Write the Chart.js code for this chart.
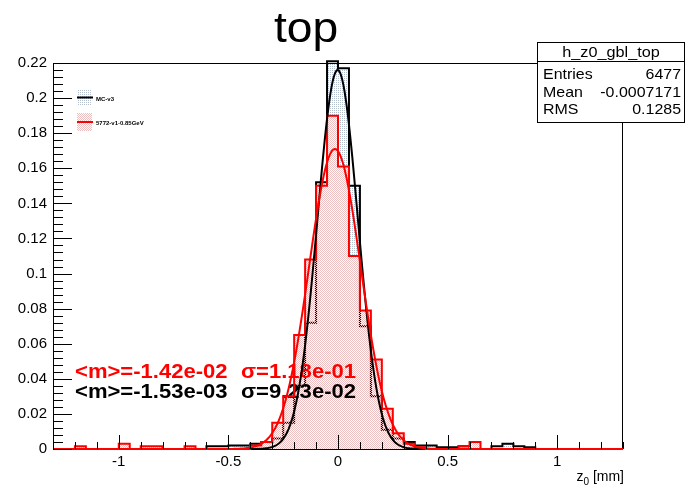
<!DOCTYPE html>
<html>
<head>
<meta charset="utf-8">
<script src="https://cdn.jsdelivr.net/npm/chart.js@4.4.1/dist/chart.umd.min.js"></script>
<style>
  html, body { margin: 0; padding: 0; background: #fff; }
  #wrap { width: 685px; height: 489px; }
</style>
</head>
<body>
<div id="wrap"><canvas id="c" width="685" height="489"></canvas></div>
<script>
// ---- histogram binning: 52 bins of 0.05 mm over [-1.3, 1.3] ----
const xRange = [-1.3, 1.3];
const binWidth = 0.05;

// normalised bin contents, one value per bin (low edge -1.30, -1.25, ... 1.25)
const mcV3 = [
  0, 0, 0, 0, 0, 0, 0, 0, 0, 0,
  0, 0, 0, 0, 0.0015, 0.0015, 0.002, 0.002, 0.003, 0.004,
  0.006, 0.015, 0.036, 0.072, 0.152, 0.221, 0.217, 0.150, 0.070, 0.030,
  0.011, 0.006, 0.004, 0.002, 0.002, 0.001, 0.001, 0.0015, 0, 0,
  0.0015, 0.003, 0.0015, 0.001, 0, 0, 0, 0, 0, 0,
  0, 0
];
const run5772 = [
  0, 0, 0.0015, 0, 0, 0, 0.003, 0, 0.0015, 0.0015,
  0, 0, 0.0015, 0, 0, 0, 0, 0, 0.002, 0.004,
  0.015, 0.030, 0.065, 0.108, 0.150, 0.190, 0.161, 0.110, 0.079, 0.051,
  0.023, 0.009, 0.003, 0.001, 0, 0, 0, 0.0015, 0.004, 0,
  0, 0, 0, 0, 0, 0, 0, 0, 0, 0,
  0, 0
];

// series names
const seriesNames = ['MC-v3', '5772-v1-0.85GeV'];

// Gaussian fit results: [5772 data, MC]
const fitMean  = [-1.42e-02, -1.53e-03];
const fitSigma = [1.18e-01, 9.23e-02];
const fitPeak  = [0.171, 0.216];

// statistics box
const statTitle = 'h_z0_gbl_top';
const statNames = ['Entries', 'Mean', 'RMS'];
const statValues = ['6477', '-0.0007171', '0.1285'];

// axis ticks
const xTickValues = [-1, -0.5, 0, 0.5, 1];
const xTickLabels = ['-1', '-0.5', '0', '0.5', '1'];
const yTickValues = [0, 0.02, 0.04, 0.06, 0.08, 0.1, 0.12, 0.14, 0.16, 0.18, 0.2, 0.22];
const yTickLabels = ['0', '0.02', '0.04', '0.06', '0.08', '0.1', '0.12', '0.14', '0.16', '0.18', '0.2', '0.22'];

const FONT = '"Liberation Sans", Arial, Helvetica, sans-serif';

// ---- helpers ----
function stepPoints(values) {
  const pts = values.map((v, i) => ({ x: xRange[0] + i * binWidth, y: v }));
  pts.push({ x: xRange[0] + values.length * binWidth, y: values[values.length - 1] });
  return pts;
}
function gaussCurve(k) {
  const pts = [];
  const n = 520;
  for (let i = 0; i <= n; i++) {
    const x = xRange[0] + (xRange[1] - xRange[0]) * i / n;
    const d = (x - fitMean[k]) / fitSigma[k];
    pts.push({ x, y: fitPeak[k] * Math.exp(-0.5 * d * d) });
  }
  return pts;
}
function sci(v) {
  const [m, e] = v.toExponential(2).split('e');
  const digits = e.replace(/[+-]/, '').padStart(2, '0');
  return m + 'e' + (e[0] === '-' ? '-' : '+') + digits;
}

const canvas = document.getElementById('c');
const ctx0 = canvas.getContext('2d');
function dotPattern(color, dense) {
  const t = document.createElement('canvas');
  t.width = 2; t.height = 2;
  const g = t.getContext('2d');
  g.fillStyle = color;
  g.fillRect(0, 0, 1, 1);
  if (dense) g.fillRect(1, 1, 1, 1);
  return ctx0.createPattern(t, 'repeat');
}
const mcFill = dotPattern('#b3bfcc', false);
const dataFill = dotPattern('#ecc0c0', true);

// text drawn with a slight horizontal stretch
function stretchText(ctx, txt, x, y, sx, align) {
  ctx.save();
  ctx.translate(x, y);
  ctx.scale(sx, 1);
  ctx.textAlign = align || 'left';
  ctx.fillText(txt, 0, 0);
  ctx.restore();
}

const decorations = {
  id: 'decorations',
  beforeDatasetsDraw(chart) {
    const { ctx, chartArea: a } = chart;
    ctx.save();
    ctx.strokeStyle = '#000';
    ctx.lineWidth = 1;
    ctx.strokeRect(a.left + 0.5, a.top + 0.5, a.right - a.left - 1, a.bottom - a.top);
    ctx.restore();
  },
  // fit results sit above the fills, below the red outline and the fit curves
  beforeDatasetDraw(chart, args) {
    if (args.index !== 2) return;
    const ctx = chart.ctx;
    ctx.save();
    ctx.textBaseline = 'alphabetic';
    ctx.font = 'bold 21px ' + FONT;
    const lines = [
      { c: '#ff0000', k: 0, y: 378 },
      { c: '#000000', k: 1, y: 398 }
    ];
    lines.forEach(l => {
      ctx.fillStyle = l.c;
      stretchText(ctx, '<m>=' + sci(fitMean[l.k]), 75, l.y, 1.05);
      stretchText(ctx, '\u03c3=' + sci(fitSigma[l.k]), 241, l.y, 1.05);
    });
    ctx.restore();
  },
  afterDatasetsDraw(chart) {
    const { ctx, chartArea: a, scales } = chart;
    ctx.save();
    ctx.strokeStyle = '#000';
    ctx.lineWidth = 1;
    ctx.beginPath();
    // x ticks: major every 0.5, minor every 0.1
    for (let i = -13; i <= 13; i++) {
      const px = Math.round(scales.x.getPixelForValue(i / 10)) + 0.5;
      const len = (i % 5 === 0) ? 14 : 7;
      ctx.moveTo(px, a.bottom);
      ctx.lineTo(px, a.bottom - len);
    }
    // y ticks: major every 0.02, minor every 0.004
    for (let i = 0; i <= 55; i++) {
      const py = Math.round(scales.y.getPixelForValue(i * 0.004)) + 0.5;
      const len = (i % 5 === 0) ? 19 : 10;
      ctx.moveTo(a.left, py);
      ctx.lineTo(a.left + len, py);
    }
    ctx.stroke();
    ctx.restore();
  },
  afterDraw(chart) {
    const { ctx, chartArea: a } = chart;
    ctx.save();
    ctx.fillStyle = '#000';
    ctx.textBaseline = 'alphabetic';

    // title
    ctx.font = '42px ' + FONT;
    stretchText(ctx, 'top', 306, 42, 1.1, 'center');

    // x axis title: z_0 [mm]
    const t1 = 'z', t2 = '0', t3 = ' [mm]';
    ctx.font = '14px ' + FONT;
    const w1 = ctx.measureText(t1).width;
    const w3 = ctx.measureText(t3).width;
    ctx.font = '10px ' + FONT;
    const w2 = ctx.measureText(t2).width;
    const x0 = a.right + 1 - (w1 + w2 + w3);
    ctx.font = '14px ' + FONT;
    ctx.fillText(t1, x0, 481);
    ctx.font = '10px ' + FONT;
    ctx.fillText(t2, x0 + w1, 485);
    ctx.font = '14px ' + FONT;
    ctx.fillText(t3, x0 + w1 + w2, 481);

    // statistics box
    const bx = 537.5, by = 42.5, bw = 147, bh = 80;
    ctx.fillStyle = '#fff';
    ctx.fillRect(bx, by, bw, bh);
    ctx.strokeStyle = '#000';
    ctx.lineWidth = 1;
    ctx.strokeRect(bx, by, bw, bh);
    ctx.beginPath();
    ctx.moveTo(bx, 61.5);
    ctx.lineTo(bx + bw, 61.5);
    ctx.stroke();
    ctx.fillStyle = '#000';
    ctx.font = '14.5px ' + FONT;
    stretchText(ctx, statTitle, bx + bw / 2, 57, 1.12, 'center');
    const rowY = [79, 96.5, 114];
    statNames.forEach((n, i) => {
      stretchText(ctx, n, 543, rowY[i], 1.1, 'left');
      stretchText(ctx, statValues[i], 681, rowY[i], 1.1, 'right');
    });

    // legend
    const entries = [
      { fill: mcFill, line: '#000', y0: 89, y1: 106, label: seriesNames[0] },
      { fill: dataFill, line: '#ff0000', y0: 113, y1: 131, label: seriesNames[1] }
    ];
    entries.forEach(e => {
      ctx.fillStyle = e.fill;
      ctx.fillRect(77, e.y0, 15, e.y1 - e.y0);
      ctx.strokeStyle = e.line;
      ctx.lineWidth = 2;
      ctx.beginPath();
      const ym = (e.y0 + e.y1) / 2;
      ctx.moveTo(77, ym);
      ctx.lineTo(93, ym);
      ctx.stroke();
      ctx.fillStyle = '#000';
      ctx.font = 'bold 6px ' + FONT;
      ctx.fillText(e.label, 96, ym + 3);
    });
    ctx.restore();
  }
};

new Chart(canvas, {
  type: 'line',
  data: {
    datasets: [
      {
        label: 'fit ' + seriesNames[1],
        data: gaussCurve(0),
        borderColor: '#ff0000',
        borderWidth: 2,
        pointRadius: 0,
        fill: false,
        tension: 0,
        clip: false
      },
      {
        label: 'fit ' + seriesNames[0],
        data: gaussCurve(1),
        borderColor: '#000000',
        borderWidth: 2,
        pointRadius: 0,
        fill: false,
        tension: 0
      },
      {
        label: seriesNames[1],
        data: stepPoints(run5772),
        stepped: true,
        borderColor: '#ff0000',
        borderWidth: 2,
        backgroundColor: dataFill,
        fill: 'origin',
        pointRadius: 0,
        clip: false
      },
      {
        label: seriesNames[0],
        data: stepPoints(mcV3),
        stepped: true,
        borderColor: '#000000',
        borderWidth: 2,
        backgroundColor: mcFill,
        fill: 'origin',
        pointRadius: 0,
        clip: false
      }
    ]
  },
  options: {
    responsive: false,
    animation: false,
    devicePixelRatio: 1,
    layout: { padding: { top: 63, right: 62, left: 0, bottom: 0 } },
    plugins: {
      legend: { display: false },
      title: { display: false },
      tooltip: { enabled: false }
    },
    scales: {
      x: {
        type: 'linear',
        min: xRange[0],
        max: xRange[1],
        afterBuildTicks: s => { s.ticks = xTickValues.map(v => ({ value: v })); },
        afterFit: s => { s.height = 40; },
        grid: { display: false, drawTicks: false },
        border: { display: false },
        ticks: {
          callback: (v, i) => xTickLabels[i],
          font: { family: FONT, size: 15 },
          color: '#000',
          padding: 4,
          maxRotation: 0,
          autoSkip: false
        }
      },
      y: {
        type: 'linear',
        min: 0,
        max: 0.22,
        afterBuildTicks: s => { s.ticks = yTickValues.map(v => ({ value: v })); },
        afterFit: s => { s.width = 53; },
        grid: { display: false, drawTicks: false },
        border: { display: false },
        ticks: {
          callback: (v, i) => yTickLabels[i],
          font: { family: FONT, size: 15 },
          color: '#000',
          padding: 6,
          autoSkip: false
        }
      }
    }
  },
  plugins: [decorations]
});
</script>
</body>
</html>
